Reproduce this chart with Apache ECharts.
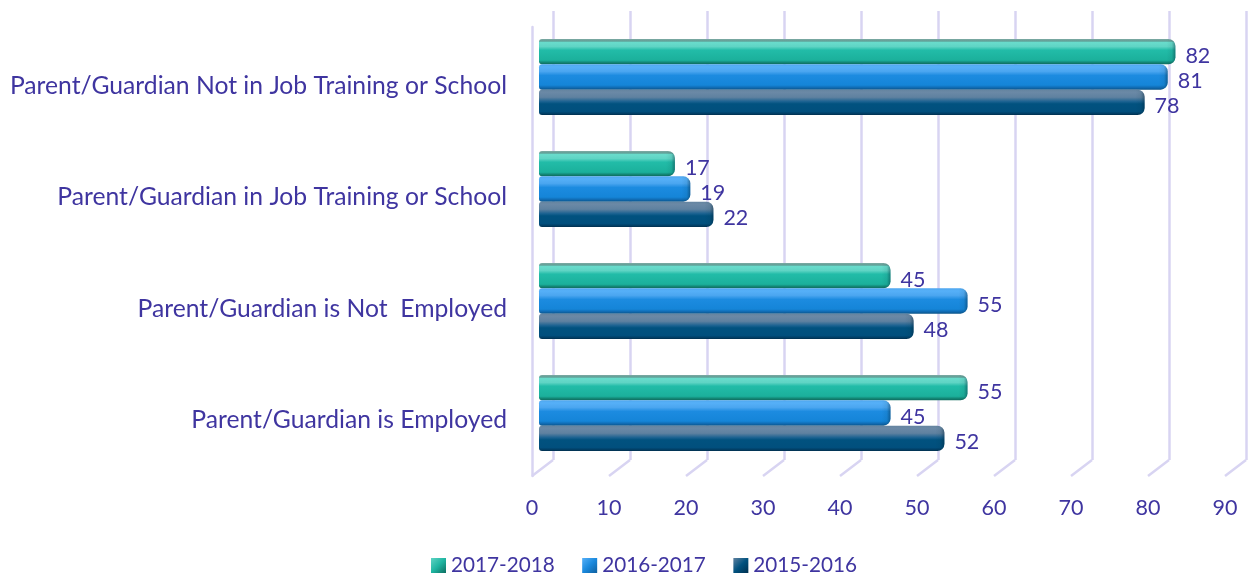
<!DOCTYPE html>
<html><head><meta charset="utf-8">
<style>html,body{margin:0;padding:0;background:#fff}#c{width:1252px;height:575px}</style>
<script src="https://cdn.jsdelivr.net/npm/echarts@6/dist/echarts.min.js"></script></head>
<body><div id="c"></div>
<script>
const categories=['Parent/Guardian is Employed','Parent/Guardian is Not  Employed','Parent/Guardian in Job Training or School','Parent/Guardian Not in Job Training or School'];
const s2017=[55,45,17,82];
const s2016=[45,55,19,81];
const s2015=[52,48,22,78];
const seriesNames=['2017-2018','2016-2017','2015-2016'];
const ticks=[0,10,20,30,40,50,60,70,80,90];
const TXT='#3f35a0', GRID='#d8d4f2', FONT='Lato';
function grad(stops){return {type:'linear',x:0,y:0,x2:0,y2:1,colorStops:stops.map(s=>({offset:s[0],color:s[1]}))};}
const fills=[
 grad([[0,'#7fa9a3'],[0.08,'#5f9f96'],[0.14,'#69dccc'],[0.3,'#5fd4c4'],[0.44,'#22bca8'],[0.84,'#1bb09b'],[0.93,'#128473'],[1,'#0e6a5d']]),
 grad([[0,'#4fa6ef'],[0.1,'#56b0f8'],[0.28,'#4ba6f0'],[0.44,'#1c8be0'],[0.82,'#1585d8'],[0.93,'#0f68ae'],[1,'#0b5488']]),
 grad([[0,'#64849f'],[0.1,'#6b89a6'],[0.3,'#5f81a0'],[0.47,'#1b6291'],[0.56,'#01527f'],[0.86,'#014f7d'],[0.94,'#013f66'],[1,'#012f4e']])
];
const legendFills=[
 {type:'linear',x:0,y:0,x2:1,y2:1,colorStops:[{offset:0,color:'#5fd4c4'},{offset:0.5,color:'#1fb5a1'},{offset:1,color:'#0d6d60'}]},
 {type:'linear',x:0,y:0,x2:1,y2:1,colorStops:[{offset:0,color:'#56b0f8'},{offset:0.5,color:'#1a89dd'},{offset:1,color:'#0f5f9e'}]},
 {type:'linear',x:0,y:0,x2:1,y2:1,colorStops:[{offset:0,color:'#5f81a0'},{offset:0.5,color:'#01527f'},{offset:1,color:'#00304f'}]}
];
const capFill={type:'linear',x:0,y:0,x2:1,y2:0,colorStops:[{offset:0,color:'rgba(0,40,50,0)'},{offset:0.6,color:'rgba(0,40,50,0.08)'},{offset:1,color:'rgba(0,30,50,0.42)'}]};
function barSeries(i,values){
 return {type:'custom',name:seriesNames[i],xAxisIndex:2,yAxisIndex:2,coordinateSystem:'cartesian2d',clip:false,z:5,
  itemStyle:{color:legendFills[i]},
  encode:{x:0,y:1},
  data:values.map((v,c)=>[v,c]),
  renderItem(params,api){
   const v=api.value(0),c=api.value(1);
   const base=api.coord([0,c]),end=api.coord([v,c]);
   const band=api.size([0,1])[1];
   const h=band*0.2262;
   const y=base[1]+(i-1.5)*h;
   const x1=end[0]+5;
   return {type:'group',children:[
    {type:'rect',shape:{x:base[0],y:y,width:x1-base[0],height:h,r:[3,7,7,3]},style:{fill:fills[i]}},
    {type:'rect',shape:{x:x1-9,y:y,width:9,height:h,r:[0,7,7,0]},style:{fill:capFill}},
    {type:'text',style:{text:String(v),x:x1+10,y:y+h/2+4,fill:TXT,font:'21.5px '+FONT,textAlign:'left',textVerticalAlign:'middle'}}
   ]};
  }};
}
const option={
 animation:false,backgroundColor:'#fff',
 textStyle:{fontFamily:FONT},
 legend:{data:seriesNames,left:431,top:555,itemWidth:15,itemHeight:15,itemGap:27.5,icon:'rect',padding:0,
  textStyle:{color:TXT,fontSize:20.7,fontFamily:FONT}},
 grid:[
  {left:553,top:11,width:693,height:449},
  {left:532,top:27,width:693,height:449},
  {left:539,top:21,width:693,height:448},
  {left:532,top:30,width:693,height:446}
 ],
 xAxis:[
  {gridIndex:0,type:'value',min:0,max:90,interval:10,axisLine:{show:false},axisTick:{show:false},axisLabel:{show:false},splitLine:{show:true,lineStyle:{color:GRID,width:2.5}}},
  {gridIndex:1,type:'value',min:0,max:90,interval:10,axisLine:{show:false},axisTick:{show:false},splitLine:{show:false},
   axisLabel:{color:TXT,fontSize:21.5,fontFamily:FONT,margin:21,hideOverlap:false,showMinLabel:true,showMaxLabel:true}},
  {gridIndex:2,type:'value',min:0,max:90,show:false},
  {gridIndex:3,type:'value',min:0,max:90,show:false}
 ],
 yAxis:[
  {gridIndex:0,type:'value',min:0,max:1,show:false},
  {gridIndex:1,type:'category',data:categories,axisTick:{show:false},axisLabel:{show:false},axisLine:{show:true,onZero:false,lineStyle:{color:GRID,width:2.5}}},
  {gridIndex:2,type:'category',data:categories,show:false},
  {gridIndex:3,type:'category',data:categories,axisTick:{show:false},axisLine:{show:false},
   axisLabel:{color:TXT,fontSize:24.7,fontFamily:FONT,margin:25}}
 ],
 series:[
  {type:'custom',xAxisIndex:1,yAxisIndex:1,silent:true,z:1,clip:false,legendHoverLink:false,
   encode:{x:0},data:ticks.map(t=>[t]),
   renderItem(p,api){
    const b=api.coord([api.value(0),0]);
    const yb=p.coordSys.y+p.coordSys.height;
    return {type:'line',shape:{x1:b[0],y1:yb,x2:b[0]+21,y2:yb-16},style:{stroke:GRID,lineWidth:2.5,fill:null}};
   }},
  barSeries(0,s2017),barSeries(1,s2016),barSeries(2,s2015)
 ]
};
const chart=echarts.init(document.getElementById('c'),null,{renderer:'canvas'});
chart.setOption(option);
</script></body></html>
